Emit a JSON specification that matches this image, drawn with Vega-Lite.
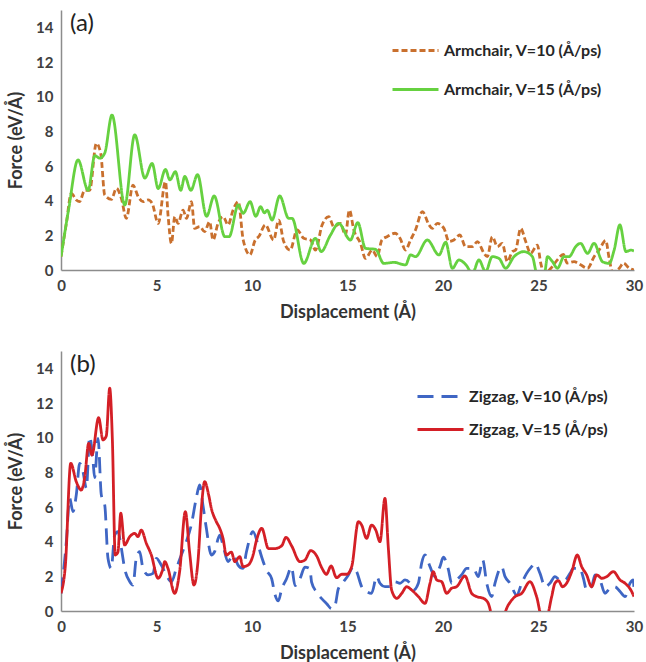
{
  "$schema": "https://vega.github.io/schema/vega-lite/v6.json",
  "padding": {"left": 7, "top": 10, "right": 5, "bottom": 5},
  "background": "white",
  "spacing": 30,
  "config": {
    "view": {"stroke": null},
    "font": "Lato",
    "axis": {
      "grid": false, "ticks": false, "domainColor": "#8c8c8c", "domainWidth": 1.5,
      "labelFont": "Lato", "labelFontWeight": "bold", "labelFontSize": 15, "labelColor": "#404040",
      "titleFont": "Lato", "titleFontWeight": "bold", "titleFontSize": 18, "titleColor": "#333333",
      "labelPadding": 8, "labelFlush": false
    },
    "legend": {
      "symbolType": "stroke", "symbolSize": 2116, "symbolStrokeWidth": 3,
      "labelFont": "Lato", "labelFontWeight": "bold", "labelFontSize": 16, "labelColor": "#262626",
      "title": null
    }
  },
  "datasets": {
    "a10": [
      {"x":0,"y":0.77},{"x":0.28,"y":2.69},{"x":0.54,"y":4.42},{"x":0.8,"y":4.04},{"x":0.97,"y":3.94},{"x":1.24,"y":4.6},{"x":1.5,"y":4.6},{"x":1.85,"y":7.31},{"x":2.08,"y":6.73},{"x":2.29,"y":4.33},{"x":2.64,"y":4.08},{"x":2.9,"y":4.71},{"x":3.16,"y":4.14},{"x":3.42,"y":2.98},{"x":3.77,"y":4.9},{"x":4.04,"y":4.23},{"x":4.3,"y":3.94},{"x":4.56,"y":4.04},{"x":4.77,"y":3.85},{"x":5.09,"y":2.69},{"x":5.47,"y":5.1},{"x":5.61,"y":3.08},{"x":5.78,"y":1.54},{"x":5.96,"y":3.08},{"x":6.13,"y":2.69},{"x":6.39,"y":3.46},{"x":6.57,"y":2.98},{"x":6.83,"y":3.94},{"x":7.0,"y":2.4},{"x":7.27,"y":2.5},{"x":7.52,"y":2.21},{"x":7.78,"y":2.79},{"x":7.96,"y":1.73},{"x":8.22,"y":2.69},{"x":8.49,"y":3.08},{"x":8.75,"y":2.6},{"x":9.01,"y":3.46},{"x":9.28,"y":3.94},{"x":9.54,"y":1.73},{"x":9.89,"y":0.87},{"x":10.17,"y":1.73},{"x":10.35,"y":1.92},{"x":10.7,"y":2.6},{"x":11.13,"y":1.73},{"x":11.4,"y":2.88},{"x":11.66,"y":1.64},{"x":12.0,"y":1.15},{"x":12.36,"y":2.31},{"x":12.71,"y":1.83},{"x":13.06,"y":1.73},{"x":13.32,"y":1.15},{"x":13.67,"y":2.6},{"x":14.02,"y":3.08},{"x":14.28,"y":2.5},{"x":14.63,"y":2.69},{"x":14.89,"y":2.02},{"x":15.1,"y":3.46},{"x":15.33,"y":2.31},{"x":15.68,"y":1.54},{"x":15.94,"y":0.67},{"x":16.3,"y":1.15},{"x":16.55,"y":0.77},{"x":16.8,"y":1.73},{"x":17.07,"y":1.92},{"x":17.49,"y":2.12},{"x":17.75,"y":1.83},{"x":18.04,"y":1.15},{"x":18.3,"y":1.73},{"x":18.56,"y":2.31},{"x":18.92,"y":3.37},{"x":19.27,"y":2.6},{"x":19.44,"y":2.4},{"x":19.7,"y":2.69},{"x":20.05,"y":2.4},{"x":20.31,"y":1.64},{"x":20.57,"y":1.73},{"x":20.88,"y":2.02},{"x":21.18,"y":1.35},{"x":21.54,"y":1.35},{"x":21.8,"y":1.64},{"x":22.15,"y":0.96},{"x":22.32,"y":0.77},{"x":22.58,"y":1.92},{"x":22.85,"y":1.35},{"x":23.1,"y":1.54},{"x":23.37,"y":0.48},{"x":23.63,"y":1.06},{"x":23.8,"y":1.15},{"x":24.07,"y":2.4},{"x":24.33,"y":1.64},{"x":24.59,"y":0.96},{"x":24.94,"y":1.44},{"x":25.12,"y":0.38},{"x":25.3,"y":-0.2},{"x":25.65,"y":0.1},{"x":26.0,"y":0.6},{"x":26.3,"y":0.9},{"x":26.5,"y":0.4},{"x":26.86,"y":0.48},{"x":27.2,"y":0.3},{"x":27.57,"y":0.1},{"x":27.91,"y":0.77},{"x":28.17,"y":1.15},{"x":28.52,"y":1.7},{"x":28.7,"y":0.67},{"x":28.87,"y":-0.1},{"x":29.23,"y":0.1},{"x":29.45,"y":0.4},{"x":29.75,"y":0.1},{"x":30,"y":0}
    ],
    "a15": [
      {"x":0,"y":0.77},{"x":0.4,"y":3.5},{"x":0.89,"y":6.35},{"x":1.42,"y":4.6},{"x":1.77,"y":6.6},{"x":2.03,"y":6.45},{"x":2.29,"y":6.75},{"x":2.67,"y":8.94},{"x":3.34,"y":3.75},{"x":3.86,"y":7.8},{"x":4.39,"y":5.3},{"x":4.77,"y":6.15},{"x":5.09,"y":4.7},{"x":5.47,"y":5.8},{"x":5.7,"y":5.2},{"x":5.99,"y":5.67},{"x":6.27,"y":4.6},{"x":6.48,"y":5.4},{"x":6.8,"y":4.6},{"x":7.15,"y":5.5},{"x":7.62,"y":3.1},{"x":8.02,"y":4.27},{"x":8.58,"y":1.92},{"x":8.8,"y":1.92},{"x":9.28,"y":3.75},{"x":9.54,"y":3.27},{"x":9.9,"y":3.94},{"x":10.2,"y":3.1},{"x":10.45,"y":3.65},{"x":10.65,"y":3.3},{"x":10.8,"y":3.45},{"x":11.05,"y":2.88},{"x":11.45,"y":4.27},{"x":11.92,"y":2.98},{"x":12.1,"y":2.98},{"x":12.71,"y":0.38},{"x":13.32,"y":1.83},{"x":13.62,"y":1.06},{"x":14.1,"y":2.0},{"x":14.54,"y":2.69},{"x":15.15,"y":1.73},{"x":15.54,"y":2.73},{"x":15.94,"y":1.25},{"x":16.47,"y":1.19},{"x":16.9,"y":0.38},{"x":17.43,"y":0.44},{"x":18.04,"y":0.29},{"x":18.3,"y":0.87},{"x":18.56,"y":0.77},{"x":19.18,"y":1.73},{"x":19.79,"y":0.87},{"x":20.14,"y":1.6},{"x":20.49,"y":0.1},{"x":20.83,"y":0.58},{"x":21.2,"y":0.3},{"x":21.54,"y":-0.2},{"x":21.88,"y":0.58},{"x":22.23,"y":-0.1},{"x":22.58,"y":0.77},{"x":22.93,"y":0.67},{"x":23.28,"y":0.1},{"x":23.72,"y":0.77},{"x":24.24,"y":1.06},{"x":24.68,"y":0.77},{"x":24.94,"y":-0.3},{"x":25.3,"y":-0.3},{"x":25.47,"y":0.77},{"x":25.73,"y":0.48},{"x":25.99,"y":0.1},{"x":26.34,"y":0.77},{"x":26.6,"y":0.77},{"x":26.95,"y":1.35},{"x":27.2,"y":1.54},{"x":27.57,"y":0.96},{"x":27.91,"y":1.54},{"x":28.35,"y":0.48},{"x":28.7,"y":0.38},{"x":28.96,"y":1.15},{"x":29.26,"y":2.6},{"x":29.58,"y":1.06},{"x":29.84,"y":1.15},{"x":30,"y":1.1}
    ],
    "b10": [
      {"x":0,"y":1.02},{"x":0.28,"y":4.0},{"x":0.45,"y":6.5},{"x":0.63,"y":5.73},{"x":0.8,"y":6.7},{"x":0.98,"y":8.52},{"x":1.15,"y":8.04},{"x":1.33,"y":7.08},{"x":1.5,"y":10.06},{"x":1.68,"y":8.6},{"x":1.76,"y":7.7},{"x":1.94,"y":9.96},{"x":2.11,"y":6.7},{"x":2.29,"y":6.12},{"x":2.46,"y":3.04},{"x":2.63,"y":2.46},{"x":2.81,"y":4.38},{"x":2.98,"y":4.58},{"x":3.16,"y":3.62},{"x":3.33,"y":2.46},{"x":3.6,"y":1.69},{"x":3.77,"y":1.5},{"x":3.94,"y":3.04},{"x":4.12,"y":3.42},{"x":4.29,"y":2.46},{"x":4.56,"y":2.08},{"x":4.82,"y":2.17},{"x":4.99,"y":3.04},{"x":5.25,"y":2.65},{"x":5.51,"y":2.08},{"x":5.78,"y":1.69},{"x":6.04,"y":2.46},{"x":6.3,"y":3.23},{"x":6.56,"y":4.0},{"x":6.82,"y":4.96},{"x":7.08,"y":6.5},{"x":7.26,"y":7.27},{"x":7.43,"y":6.12},{"x":7.61,"y":4.77},{"x":7.87,"y":3.23},{"x":8.04,"y":3.42},{"x":8.31,"y":4.38},{"x":8.48,"y":3.81},{"x":8.74,"y":2.85},{"x":9.01,"y":3.23},{"x":9.27,"y":2.65},{"x":9.53,"y":2.46},{"x":9.71,"y":3.42},{"x":10.05,"y":4.58},{"x":10.33,"y":3.77},{"x":10.51,"y":3.1},{"x":10.77,"y":2.33},{"x":11.03,"y":1.86},{"x":11.2,"y":0.96},{"x":11.38,"y":0.58},{"x":11.55,"y":1.25},{"x":11.81,"y":1.86},{"x":12.07,"y":2.53},{"x":12.25,"y":1.47},{"x":12.51,"y":1.86},{"x":12.77,"y":2.53},{"x":13.03,"y":2.44},{"x":13.12,"y":1.67},{"x":13.38,"y":1.09},{"x":13.65,"y":0.71},{"x":13.91,"y":0.42},{"x":14.17,"y":0.13},{"x":14.35,"y":0.33},{"x":14.52,"y":1.28},{"x":14.78,"y":1.67},{"x":15.04,"y":2.06},{"x":15.31,"y":2.56},{"x":15.48,"y":2.27},{"x":15.74,"y":1.41},{"x":16.0,"y":1.12},{"x":16.26,"y":1.02},{"x":16.53,"y":1.98},{"x":16.7,"y":1.6},{"x":16.96,"y":1.41},{"x":17.23,"y":1.41},{"x":17.49,"y":1.69},{"x":17.75,"y":1.6},{"x":18.01,"y":1.79},{"x":18.27,"y":1.6},{"x":18.45,"y":1.21},{"x":18.71,"y":1.6},{"x":18.88,"y":2.75},{"x":19.06,"y":3.23},{"x":19.32,"y":2.56},{"x":19.58,"y":1.98},{"x":19.84,"y":2.56},{"x":20.02,"y":3.1},{"x":20.28,"y":2.4},{"x":20.45,"y":1.6},{"x":20.71,"y":1.79},{"x":20.97,"y":2.08},{"x":21.24,"y":2.46},{"x":21.59,"y":2.46},{"x":21.85,"y":1.98},{"x":22.08,"y":2.94},{"x":22.29,"y":1.6},{"x":22.55,"y":0.83},{"x":22.72,"y":1.6},{"x":23.07,"y":2.56},{"x":23.25,"y":1.98},{"x":23.51,"y":1.6},{"x":23.86,"y":0.92},{"x":24.12,"y":1.6},{"x":24.38,"y":2.17},{"x":24.64,"y":2.56},{"x":24.82,"y":2.75},{"x":25.08,"y":2.17},{"x":25.34,"y":1.4},{"x":25.6,"y":1.6},{"x":25.86,"y":1.98},{"x":26.12,"y":1.79},{"x":26.38,"y":1.79},{"x":26.65,"y":2.17},{"x":26.82,"y":2.46},{"x":27.17,"y":2.46},{"x":27.35,"y":1.89},{"x":27.52,"y":1.21},{"x":27.78,"y":1.4},{"x":27.96,"y":2.08},{"x":28.22,"y":1.79},{"x":28.48,"y":1.02},{"x":28.74,"y":1.31},{"x":29.0,"y":1.4},{"x":29.27,"y":1.12},{"x":29.53,"y":0.83},{"x":29.79,"y":1.6},{"x":29.96,"y":1.79},{"x":30,"y":1.3}
    ],
    "b15": [
      {"x":0,"y":1.02},{"x":0.23,"y":2.65},{"x":0.51,"y":8.52},{"x":0.8,"y":7.46},{"x":1.06,"y":6.98},{"x":1.24,"y":7.7},{"x":1.45,"y":9.67},{"x":1.62,"y":9.0},{"x":1.97,"y":11.15},{"x":2.2,"y":9.87},{"x":2.37,"y":10.1},{"x":2.55,"y":12.85},{"x":2.69,"y":9.87},{"x":2.84,"y":3.23},{"x":2.98,"y":3.4},{"x":3.13,"y":5.64},{"x":3.33,"y":3.81},{"x":3.6,"y":4.29},{"x":3.86,"y":4.48},{"x":4.03,"y":4.29},{"x":4.2,"y":4.67},{"x":4.47,"y":3.9},{"x":4.73,"y":3.23},{"x":5.08,"y":1.89},{"x":5.34,"y":2.46},{"x":5.43,"y":2.85},{"x":5.6,"y":2.46},{"x":5.95,"y":1.02},{"x":6.21,"y":2.27},{"x":6.51,"y":5.73},{"x":6.73,"y":3.42},{"x":6.96,"y":1.5},{"x":7.17,"y":2.85},{"x":7.35,"y":5.93},{"x":7.52,"y":7.46},{"x":7.73,"y":6.7},{"x":7.87,"y":5.93},{"x":8.13,"y":5.16},{"x":8.31,"y":4.77},{"x":8.48,"y":4.2},{"x":8.66,"y":3.23},{"x":8.92,"y":3.4},{"x":9.1,"y":2.85},{"x":9.36,"y":3.13},{"x":9.53,"y":2.56},{"x":9.8,"y":2.65},{"x":10.05,"y":3.2},{"x":10.24,"y":4.1},{"x":10.51,"y":4.77},{"x":10.86,"y":3.6},{"x":11.2,"y":3.6},{"x":11.56,"y":3.77},{"x":11.78,"y":4.25},{"x":12.07,"y":3.77},{"x":12.51,"y":2.85},{"x":12.77,"y":2.94},{"x":13.07,"y":3.48},{"x":13.39,"y":3.17},{"x":13.65,"y":2.5},{"x":13.9,"y":2.12},{"x":14.14,"y":2.6},{"x":14.43,"y":1.92},{"x":14.7,"y":2.12},{"x":14.96,"y":2.12},{"x":15.22,"y":2.56},{"x":15.57,"y":5.16},{"x":15.74,"y":4.96},{"x":16.0,"y":4.19},{"x":16.26,"y":4.96},{"x":16.48,"y":4.67},{"x":16.7,"y":4.0},{"x":16.96,"y":6.5},{"x":17.14,"y":3.6},{"x":17.31,"y":1.21},{"x":17.58,"y":0.73},{"x":17.84,"y":1.02},{"x":18.1,"y":1.4},{"x":18.36,"y":1.21},{"x":18.71,"y":0.83},{"x":19.06,"y":0.44},{"x":19.32,"y":1.6},{"x":19.49,"y":2.27},{"x":19.67,"y":1.79},{"x":19.93,"y":1.69},{"x":20.19,"y":1.02},{"x":20.45,"y":1.31},{"x":20.71,"y":1.4},{"x":21.15,"y":2.02},{"x":21.5,"y":1.02},{"x":21.76,"y":0.83},{"x":22.11,"y":0.73},{"x":22.37,"y":0.44},{"x":22.6,"y":-0.3},{"x":23.1,"y":-0.3},{"x":23.42,"y":0.35},{"x":23.77,"y":0.83},{"x":24.12,"y":1.02},{"x":24.55,"y":1.69},{"x":24.9,"y":0.83},{"x":25.17,"y":-0.3},{"x":25.43,"y":-0.3},{"x":25.69,"y":0.83},{"x":25.86,"y":1.6},{"x":26.04,"y":1.75},{"x":26.26,"y":1.4},{"x":26.47,"y":1.6},{"x":26.74,"y":2.27},{"x":27.03,"y":3.23},{"x":27.26,"y":2.56},{"x":27.52,"y":2.08},{"x":27.78,"y":1.4},{"x":28.05,"y":2.08},{"x":28.31,"y":1.89},{"x":28.57,"y":1.98},{"x":28.92,"y":2.27},{"x":29.27,"y":1.79},{"x":29.53,"y":1.6},{"x":29.88,"y":1.12},{"x":30,"y":0.83}
    ],
    "lab": [{"x":0.47,"y":14.2}]
  },
  "resolve": {"scale": {"color": "independent", "strokeDash": "independent"}, "legend": {"color": "independent", "strokeDash": "independent"}},
  "vconcat": [
    {
      "width": 573, "height": 260,
      "encoding": {
        "x": {"field": "x", "type": "quantitative", "scale": {"domain": [0, 30], "nice": false}, "axis": {"values": [0,5,10,15,20,25,30], "title": "Displacement (Å)", "titlePadding": 10}},
        "y": {"field": "y", "type": "quantitative", "scale": {"domain": [0, 15], "nice": false}, "axis": {"values": [0,2,4,6,8,10,12,14], "title": "Force (eV/Å)", "titlePadding": 10}}
      },
      "layer": [
        {
          "data": {"name": "a10"},
          "mark": {"type": "line", "interpolate": "monotone", "strokeWidth": 2.8, "clip": true},
          "encoding": {
            "color": {"datum": "Armchair, V=10 (Å/ps)", "type": "nominal", "scale": {"domain": ["Armchair, V=10 (Å/ps)", "Armchair, V=15 (Å/ps)"], "range": ["#c9702e", "#66d140"]}, "legend": {"orient": "none", "legendX": 330, "legendY": 16, "rowPadding": 6}},
            "strokeDash": {"datum": "Armchair, V=10 (Å/ps)", "type": "nominal", "scale": {"domain": ["Armchair, V=10 (Å/ps)", "Armchair, V=15 (Å/ps)"], "range": [[6, 3], [1, 0]]}, "legend": {"orient": "none", "legendX": 330, "legendY": 16, "rowPadding": 6}}
          }
        },
        {
          "data": {"name": "a15"},
          "mark": {"type": "line", "interpolate": "monotone", "strokeWidth": 2.8, "clip": true},
          "encoding": {
            "color": {"datum": "Armchair, V=15 (Å/ps)", "type": "nominal"},
            "strokeDash": {"datum": "Armchair, V=15 (Å/ps)", "type": "nominal"}
          }
        },
        {
          "data": {"name": "lab"},
          "mark": {"type": "text", "text": "(a)", "align": "left", "baseline": "middle", "fontSize": 24, "font": "Lato", "color": "#222"}
        }
      ]
    },
    {
      "width": 573, "height": 260,
      "encoding": {
        "x": {"field": "x", "type": "quantitative", "scale": {"domain": [0, 30], "nice": false}, "axis": {"values": [0,5,10,15,20,25,30], "title": "Displacement (Å)", "titlePadding": 10}},
        "y": {"field": "y", "type": "quantitative", "scale": {"domain": [0, 15], "nice": false}, "axis": {"values": [0,2,4,6,8,10,12,14], "title": "Force (eV/Å)", "titlePadding": 10}}
      },
      "layer": [
        {
          "data": {"name": "b10"},
          "mark": {"type": "line", "interpolate": "monotone", "strokeWidth": 2.8, "clip": true},
          "encoding": {
            "color": {"datum": "Zigzag, V=10 (Å/ps)", "type": "nominal", "scale": {"domain": ["Zigzag, V=10 (Å/ps)", "Zigzag, V=15 (Å/ps)"], "range": ["#3f66c4", "#d41f26"]}, "legend": {"orient": "none", "legendX": 355, "legendY": 21, "rowPadding": -1}},
            "strokeDash": {"datum": "Zigzag, V=10 (Å/ps)", "type": "nominal", "scale": {"domain": ["Zigzag, V=10 (Å/ps)", "Zigzag, V=15 (Å/ps)"], "range": [[16, 8], [1, 0]]}, "legend": {"orient": "none", "legendX": 355, "legendY": 21, "rowPadding": -1}}
          }
        },
        {
          "data": {"name": "b15"},
          "mark": {"type": "line", "interpolate": "monotone", "strokeWidth": 2.8, "clip": true},
          "encoding": {
            "color": {"datum": "Zigzag, V=15 (Å/ps)", "type": "nominal"},
            "strokeDash": {"datum": "Zigzag, V=15 (Å/ps)", "type": "nominal"}
          }
        },
        {
          "data": {"name": "lab"},
          "mark": {"type": "text", "text": "(b)", "align": "left", "baseline": "middle", "fontSize": 24, "font": "Lato", "color": "#222"}
        }
      ]
    }
  ]
}
